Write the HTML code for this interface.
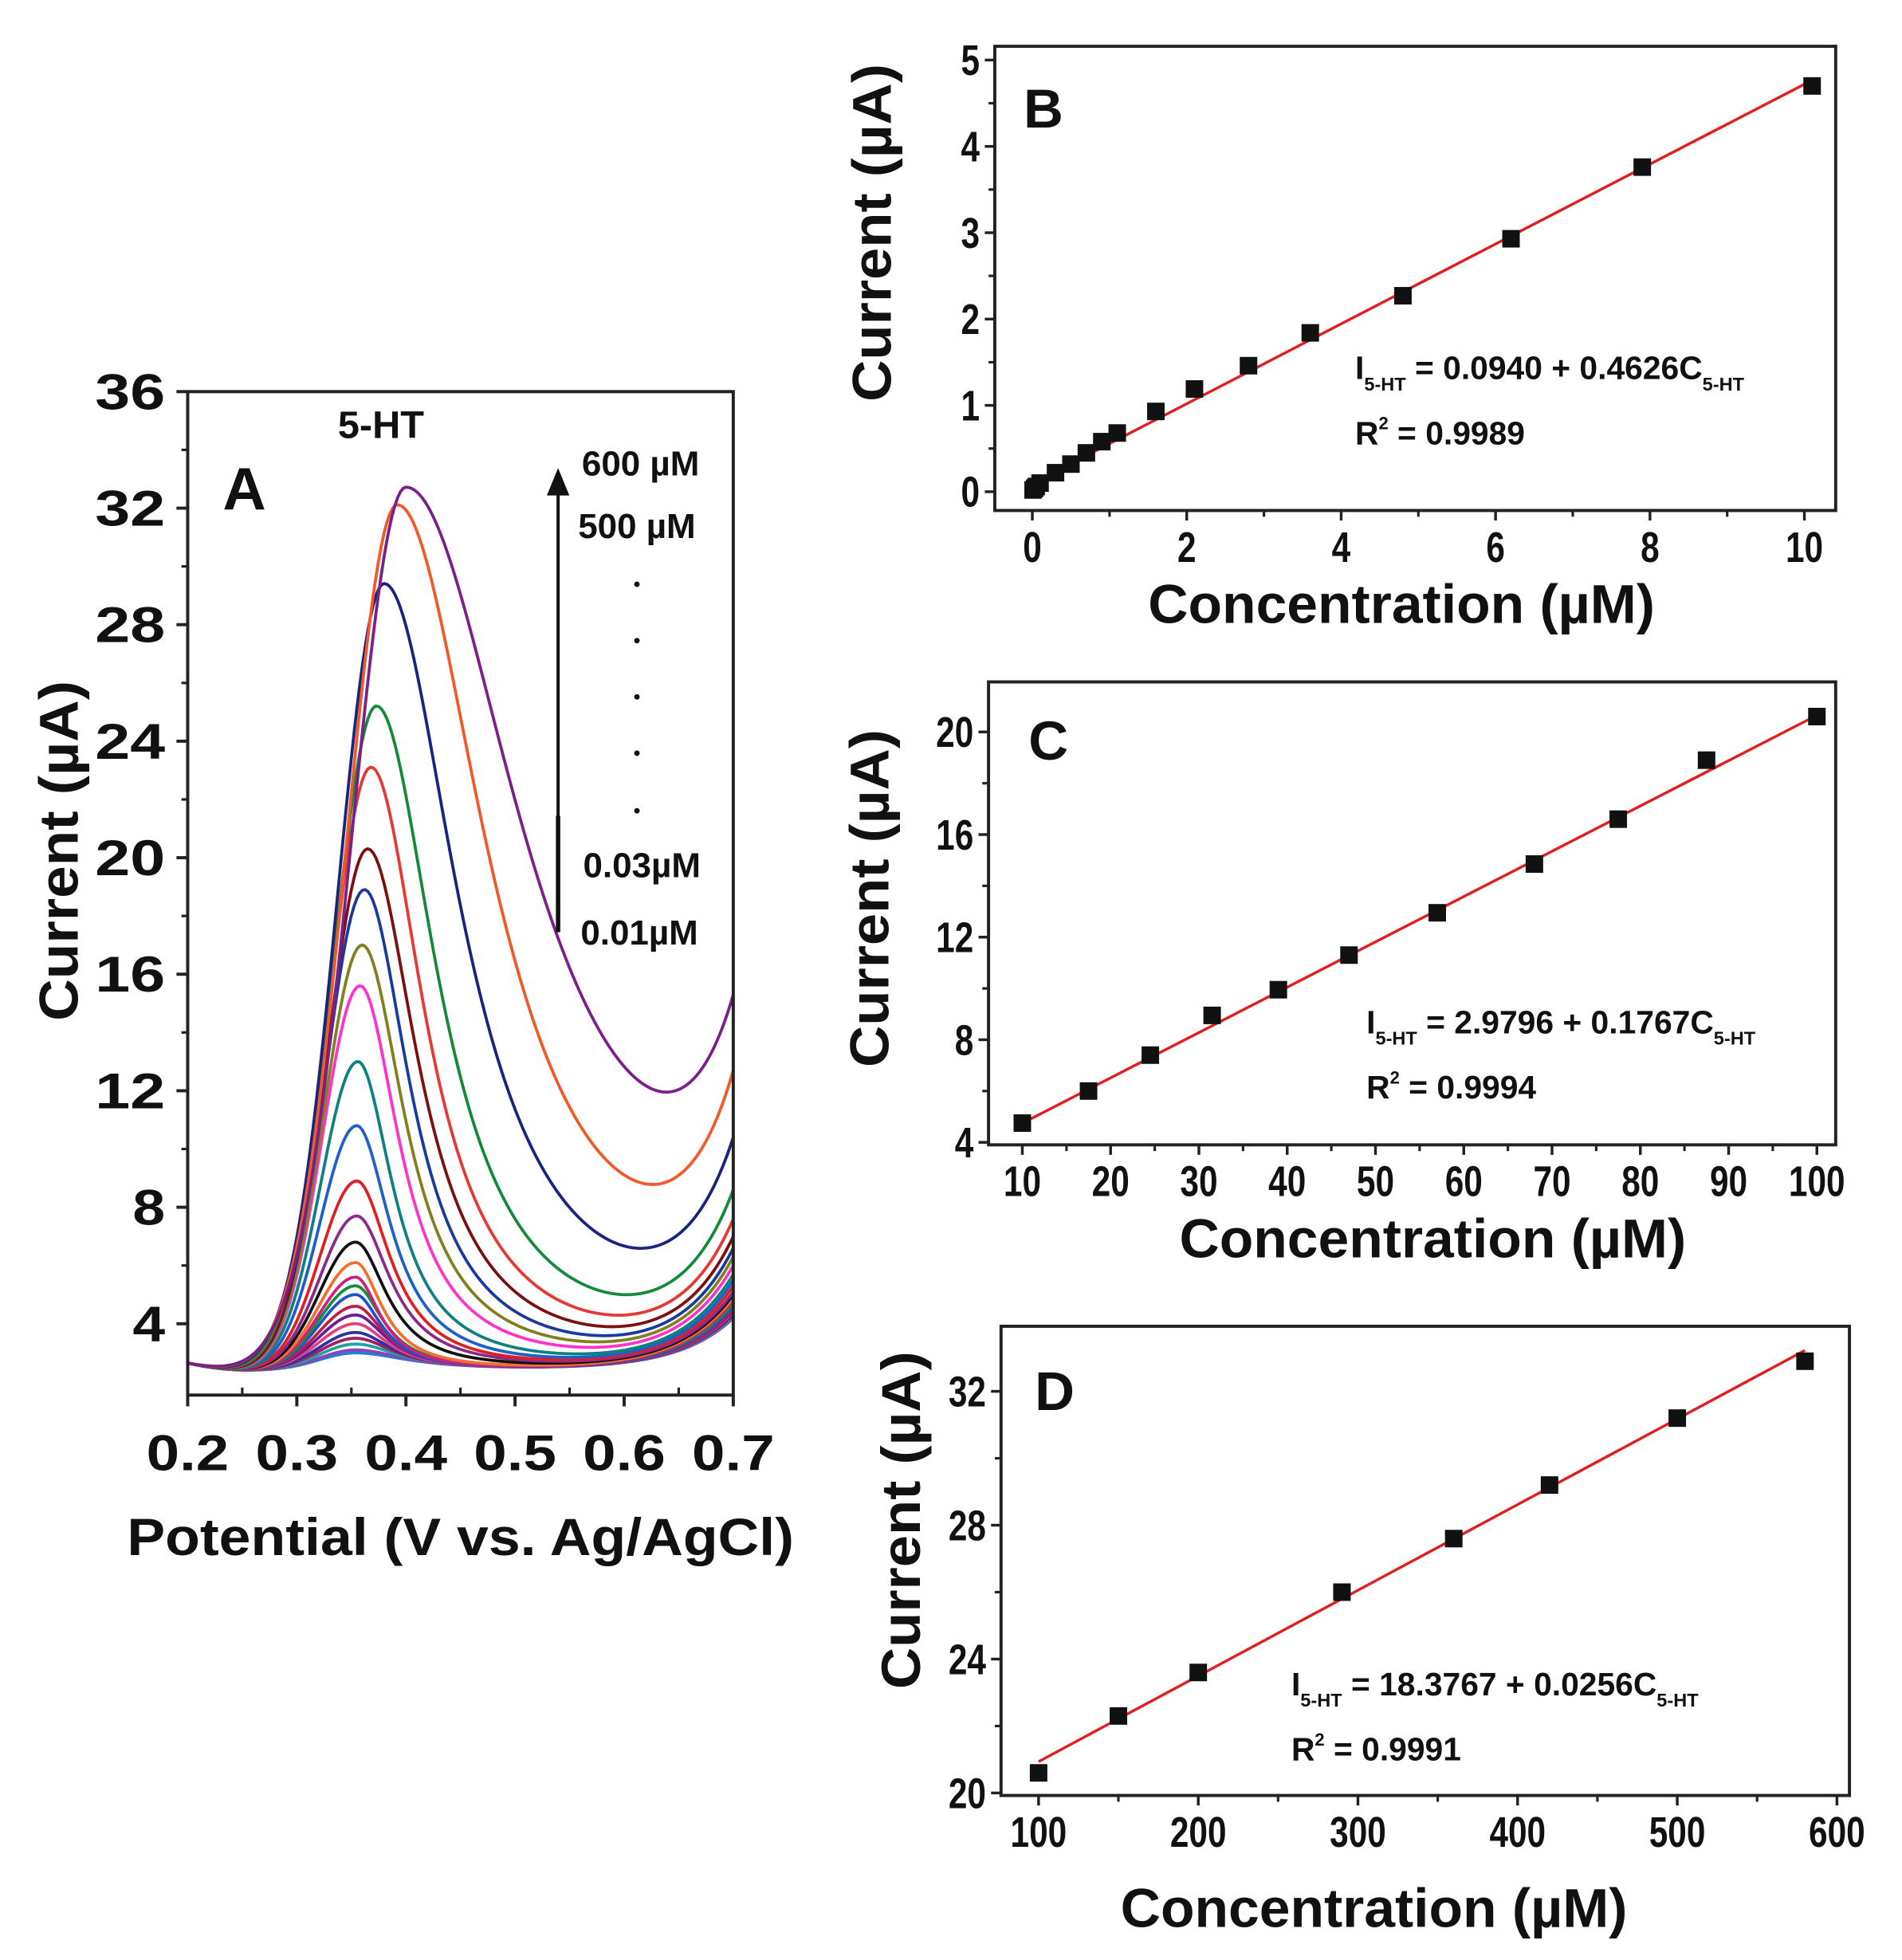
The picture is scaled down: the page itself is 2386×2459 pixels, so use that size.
<!DOCTYPE html>
<html><head><meta charset="utf-8"><style>
html,body{margin:0;padding:0;background:#fff;}
svg{display:block;}
text{font-family:"Liberation Sans",sans-serif;font-weight:bold;fill:#111;}
.cond{font-family:"Liberation Sans Narrow","Liberation Sans",sans-serif;}
</style></head><body>
<svg id="fig" width="2386" height="2459" viewBox="0 0 1520 1566.5" preserveAspectRatio="none" xmlns="http://www.w3.org/2000/svg">
<rect width="1520" height="1566.5" fill="#fff"/>
</svg>
<script>
// ---------- Panel A data ----------
const peakI   = [32.7,32.1,29.4,25.2,23.1,20.3,18.9,17.0,15.6,13.0,10.8,8.9,7.7,6.8,6.1,5.6,5.3,5.0,4.6,4.3,4.0,3.7,3.5,3.3,3.1,3.0];
const peakE   = [0.400,0.392,0.380,0.373,0.368,0.365,0.362,0.360,0.358,0.356,0.355,0.355,0.355,0.354,0.354,0.354,0.354,0.354,0.354,0.354,0.354,0.354,0.354,0.354,0.354,0.354];
const valleyI = [12.0,8.8,6.6,5.0,4.3,3.9,3.6,3.4,3.2,3.0,2.9,2.8,2.75,2.7,2.65,2.6,2.6,2.55,2.5,2.5,2.45,2.45,2.4,2.4,2.4,2.4];
const valleyE = [0.630,0.620,0.610,0.600,0.600,0.590,0.590,0.590,0.580,0.580,0.580,0.570,0.570,0.570,0.570,0.560,0.560,0.560,0.560,0.560,0.550,0.550,0.550,0.550,0.550,0.550];
const endI    = [15.3,12.7,10.4,8.6,7.6,7.0,6.6,6.3,6.0,5.7,5.5,5.3,5.1,5.0,4.9,4.8,4.7,4.6,4.5,4.45,4.4,4.35,4.3,4.25,4.2,4.2];
const colorsA = ["#7b1f8a","#f05a28","#1a237e","#138a3a","#e53935","#7a1010","#1a3a9c","#808020","#ff33cc","#0f8080","#1f5fc8","#e02020","#8b2a8b","#111111","#f07030","#d0207a","#109040","#2050d0","#c02040","#6a1b9a","#e04080","#3030a0","#a02060","#20a0a0","#9040c0","#2080d0"];
const xTicksA = [0.2,0.3,0.4,0.5,0.6,0.7];
const yTicksA = [4,8,12,16,20,24,28,32,36];

// ---------- Panel B data ----------
const concB = [0.01,0.03,0.05,0.1,0.3,0.5,0.7,0.9,1.1,1.6,2.1,2.8,3.6,4.8,6.2,7.9,10.1];
const curB  = [0.02,0.04,0.06,0.1,0.22,0.32,0.45,0.58,0.68,0.93,1.19,1.46,1.84,2.27,2.93,3.76,4.7];
const fitB  = [0.0940,0.4626];
const xTicksB = [0,2,4,6,8,10];
const yTicksB = [0,1,2,3,4,5];
// ---------- Panel C data ----------
const concC = [10,17.5,24.5,31.5,39,47,57,68,77.5,87.5,100];
const curC  = [4.75,6.0,7.4,8.95,9.95,11.3,12.95,14.85,16.6,18.9,20.6];
const fitC  = [2.9796,0.1767];
const xTicksC = [10,20,30,40,50,60,70,80,90,100];
const yTicksC = [4,8,12,16,20];
// ---------- Panel D data ----------
const concD = [100,150,200,290,360,420,500,580];
const curD  = [20.6,22.3,23.6,26.0,27.6,29.2,31.2,32.9];
const fitD  = [18.3767,0.0256];
const xTicksD = [100,200,300,400,500,600];
const yTicksD = [20,24,28,32];

const NS="http://www.w3.org/2000/svg";
const svg=document.getElementById('fig');
function mk(tag,attrs,parent){const e=document.createElementNS(NS,tag);for(const k in attrs)e.setAttribute(k,attrs[k]);(parent||svg).appendChild(e);return e;}
function txt(s,attrs,parent){const e=mk('text',attrs,parent);e.textContent=s;return e;}
function scale(d0,d1,r0,r1){return v=>r0+(v-d0)*(r1-r0)/(d1-d0);}

// ================= Panel A =================
const gA=mk('g',{});


const FA={l:150,r:586,t:313,b:1115};
const xA=scale(0.2,0.7,150,586);
const yA=scale(4,36,1058,313);
const curvesG=mk('g',{},gA);


const base=2.4, tau=0.05;
for(let i=peakI.length-1;i>=0;i--){
  const Ip=peakI[i],Ep=peakE[i],Vv=valleyI[i],Ev=valleyE[i],En=endI[i];
  const wl=(Ep-0.3)*0.5+0.02;
  let wr=0.1, tailAmp=0;
  const pkR=(E,w)=>(Ip-base)/(1+Math.pow((E-Ep)/w,2));
  for(let it=0;it<8;it++){
    const target=Math.max(Vv-base-tailAmp*Math.exp((Ev-0.7)/tau),0.05);
    const ratio=(Ip-base)/target-1;
    wr=(Ev-Ep)/Math.sqrt(Math.max(ratio,0.5));
    tailAmp=Math.max(En-base-pkR(0.7,wr),0);
  }
  const pk=E=> E<=Ep ? (Ip-base)*Math.exp(-Math.pow((E-Ep)/wl,2)) : pkR(E,wr);
  let d='';
  for(let k=0;k<=200;k++){
    const E=0.2+0.5*k/200;
    let I=base+pk(E)+tailAmp*Math.exp((E-0.7)/tau);
    if(E<0.26) I+=0.25*Math.pow((0.26-E)/0.06,2);
    d+=(k?'L':'M')+xA(E).toFixed(2)+','+yA(I).toFixed(2);
  }
  const p=mk('path',{d:d,fill:'none',stroke:colorsA[i%colorsA.length],'stroke-width':2.4},curvesG);
  
  
}
const frA=mk('rect',{x:FA.l,y:FA.t,width:FA.r-FA.l,height:FA.b-FA.t,fill:'none',stroke:'#222','stroke-width':2.5},gA);


xTicksA.forEach((v,i)=>{
  const x=xA(v);
  mk('line',{x1:x,y1:FA.b,x2:x,y2:FA.b+9,stroke:'#222','stroke-width':2.5},gA);
  if(i<xTicksA.length-1){const xm=xA(v+0.05);mk('line',{x1:xm,y1:FA.b,x2:xm,y2:FA.b-6,stroke:'#222','stroke-width':2},gA);}
  const t=txt(v.toFixed(1),{x:x,y:1175,'text-anchor':'middle','font-size':40,textLength:66,lengthAdjust:'spacingAndGlyphs'},gA);
  
  
});
yTicksA.forEach(v=>{
  const y=yA(v);
  mk('line',{x1:FA.l,y1:y,x2:FA.l-9,y2:y,stroke:'#222','stroke-width':2.5},gA);
  if(v<36){const ym=yA(v+2);mk('line',{x1:FA.l,y1:ym,x2:FA.l-5,y2:ym,stroke:'#222','stroke-width':2},gA);}
  const t=txt(String(v),{x:132,y:y+14,'text-anchor':'end','font-size':40,textLength:v<10?26:56,lengthAdjust:'spacingAndGlyphs'},gA);
  
  
});
let t;
t=txt('Potential (V vs. Ag/AgCl)',{x:368,y:1243,'text-anchor':'middle','font-size':42,textLength:533,lengthAdjust:'spacingAndGlyphs'},gA);

t=txt('Current (µA)',{x:0,y:0,'text-anchor':'middle','font-size':44,textLength:272,lengthAdjust:'spacingAndGlyphs',transform:'translate(62,680) rotate(-90)'},gA);

t=txt('A',{x:178,y:407,'font-size':48},gA);

t=txt('5-HT',{x:270,y:350,'font-size':31},gA);

const ar=mk('g',{},gA);


mk('line',{x1:446,y1:745,x2:446,y2:392,stroke:'#111','stroke-width':2.5},ar);
mk('line',{x1:446,y1:745,x2:446,y2:652,stroke:'#111','stroke-width':3.5},ar);
mk('polygon',{points:'446,374 437,396 455,396',fill:'#111'},ar);
[['600 µM',465,380],['500 µM',462,430],['0.03µM',466,701],['0.01µM',464,755]].forEach(a=>{
  const e=txt(a[0],{x:a[1],y:a[2],'font-size':28},gA);
  
  
});
[467,512,557,602,648].forEach(y=>mk('circle',{cx:509,cy:y,r:2.2,fill:'#111'},gA));

// ================= Regression panels =================
function regPanel(name,F,xd,yd,xs,ys,fit,xT,yT,xMinor,yMinor,label,labelPos,eqPos,eqTexts,titlePos,ytitlePos){
  const g=mk('g',{});
  
  
  const X=scale(xd[0],xd[1],xd[2],xd[3]), Y=scale(yd[0],yd[1],yd[2],yd[3]);
  const fr=mk('rect',{x:F.l,y:F.t,width:F.r-F.l,height:F.b-F.t,fill:'none',stroke:'#222','stroke-width':2.5},g);
  
  
  xT.forEach((v,i)=>{
    const x=X(v);
    mk('line',{x1:x,y1:F.b,x2:x,y2:F.b+8,stroke:'#222','stroke-width':2.2},g);
    if(i<xT.length-1){const xm=X(v+xMinor);mk('line',{x1:xm,y1:F.b,x2:xm,y2:F.b+5,stroke:'#222','stroke-width':2},g);}
    const e=txt(String(v),{x:x,y:F.b+41,'text-anchor':'middle','font-size':34,'class':'cond',textLength:String(v).length*15,lengthAdjust:'spacingAndGlyphs'},g);
    
    
  });
  yT.forEach((v,i)=>{
    const y=Y(v);
    mk('line',{x1:F.l,y1:y,x2:F.l-8,y2:y,stroke:'#222','stroke-width':2.2},g);
    if(i<yT.length-1){const ym=Y(v+yMinor);mk('line',{x1:F.l,y1:ym,x2:F.l-5,y2:ym,stroke:'#222','stroke-width':2},g);}
    const e=txt(String(v),{x:F.l-12,y:y+12,'text-anchor':'end','font-size':34,'class':'cond',textLength:String(v).length*15,lengthAdjust:'spacingAndGlyphs'},g);
    
    
  });
  const lx0=Math.min(...xs), lx1=Math.max(...xs);
  const fl=mk('line',{x1:X(lx0),y1:Y(fit[0]+fit[1]*lx0),x2:X(lx1),y2:Y(fit[0]+fit[1]*lx1),stroke:'#e02020','stroke-width':2.2},g);
  
  
  xs.forEach((v,i)=>{
    const p=mk('rect',{x:X(v)-7,y:Y(ys[i])-7,width:14,height:14,fill:'#111'},g);
    
    
  });
  let e=txt(label,{x:labelPos[0],y:labelPos[1],'font-size':44},g);
  
  e=txt('Concentration (µM)',{x:titlePos[0],y:titlePos[1],'text-anchor':'middle','font-size':44,textLength:405,lengthAdjust:'spacingAndGlyphs'},g);
  
  e=txt('Current (µA)',{x:0,y:0,'text-anchor':'middle','font-size':44,textLength:270,lengthAdjust:'spacingAndGlyphs',transform:'translate('+ytitlePos[0]+','+ytitlePos[1]+') rotate(-90)'},g);
  
  const eq=mk('text',{x:eqPos[0],y:eqPos[1],'font-size':26,'class':'cond'},g);
  
  
  eq.innerHTML='I<tspan font-size="15" dy="9">5-HT</tspan><tspan dy="-9"> = '+eqTexts[0]+' + '+eqTexts[1]+'C</tspan><tspan font-size="15" dy="9">5-HT</tspan>';
  const r2=mk('text',{x:eqPos[0],y:eqPos[1]+52,'font-size':26,'class':'cond'},g);
  
  
  r2.innerHTML='R<tspan font-size="14" dy="-12">2</tspan><tspan dy="12"> = '+eqTexts[2]+'</tspan>';
}
regPanel('b',{l:795,r:1467,t:37,b:408},[0,10,825,1442],[0,5,393,48],concB,curB,fitB,xTicksB,yTicksB,1,0.5,'B',[818,102],[1083,303],['0.0940','0.4626','0.9989'],[1120,498],[712,186]);
regPanel('c',{l:790,r:1467,t:545,b:915},[10,100,817,1452],[4,20,913,585],concC,curC,fitC,xTicksC,yTicksC,5,2,'C',[822,607],[1092,826],['2.9796','0.1767','0.9994'],[1145,1005],[710,718]);
regPanel('d',{l:800,r:1478,t:1060,b:1435},[100,600,830,1468],[20,32,1433,1112],concD,curD,fitD,xTicksD,yTicksD,50,2,'D',[827,1127],[1032,1355],['18.3767','0.0256','0.9991'],[1098,1540],[735,1215]);
</script>
</body></html>
